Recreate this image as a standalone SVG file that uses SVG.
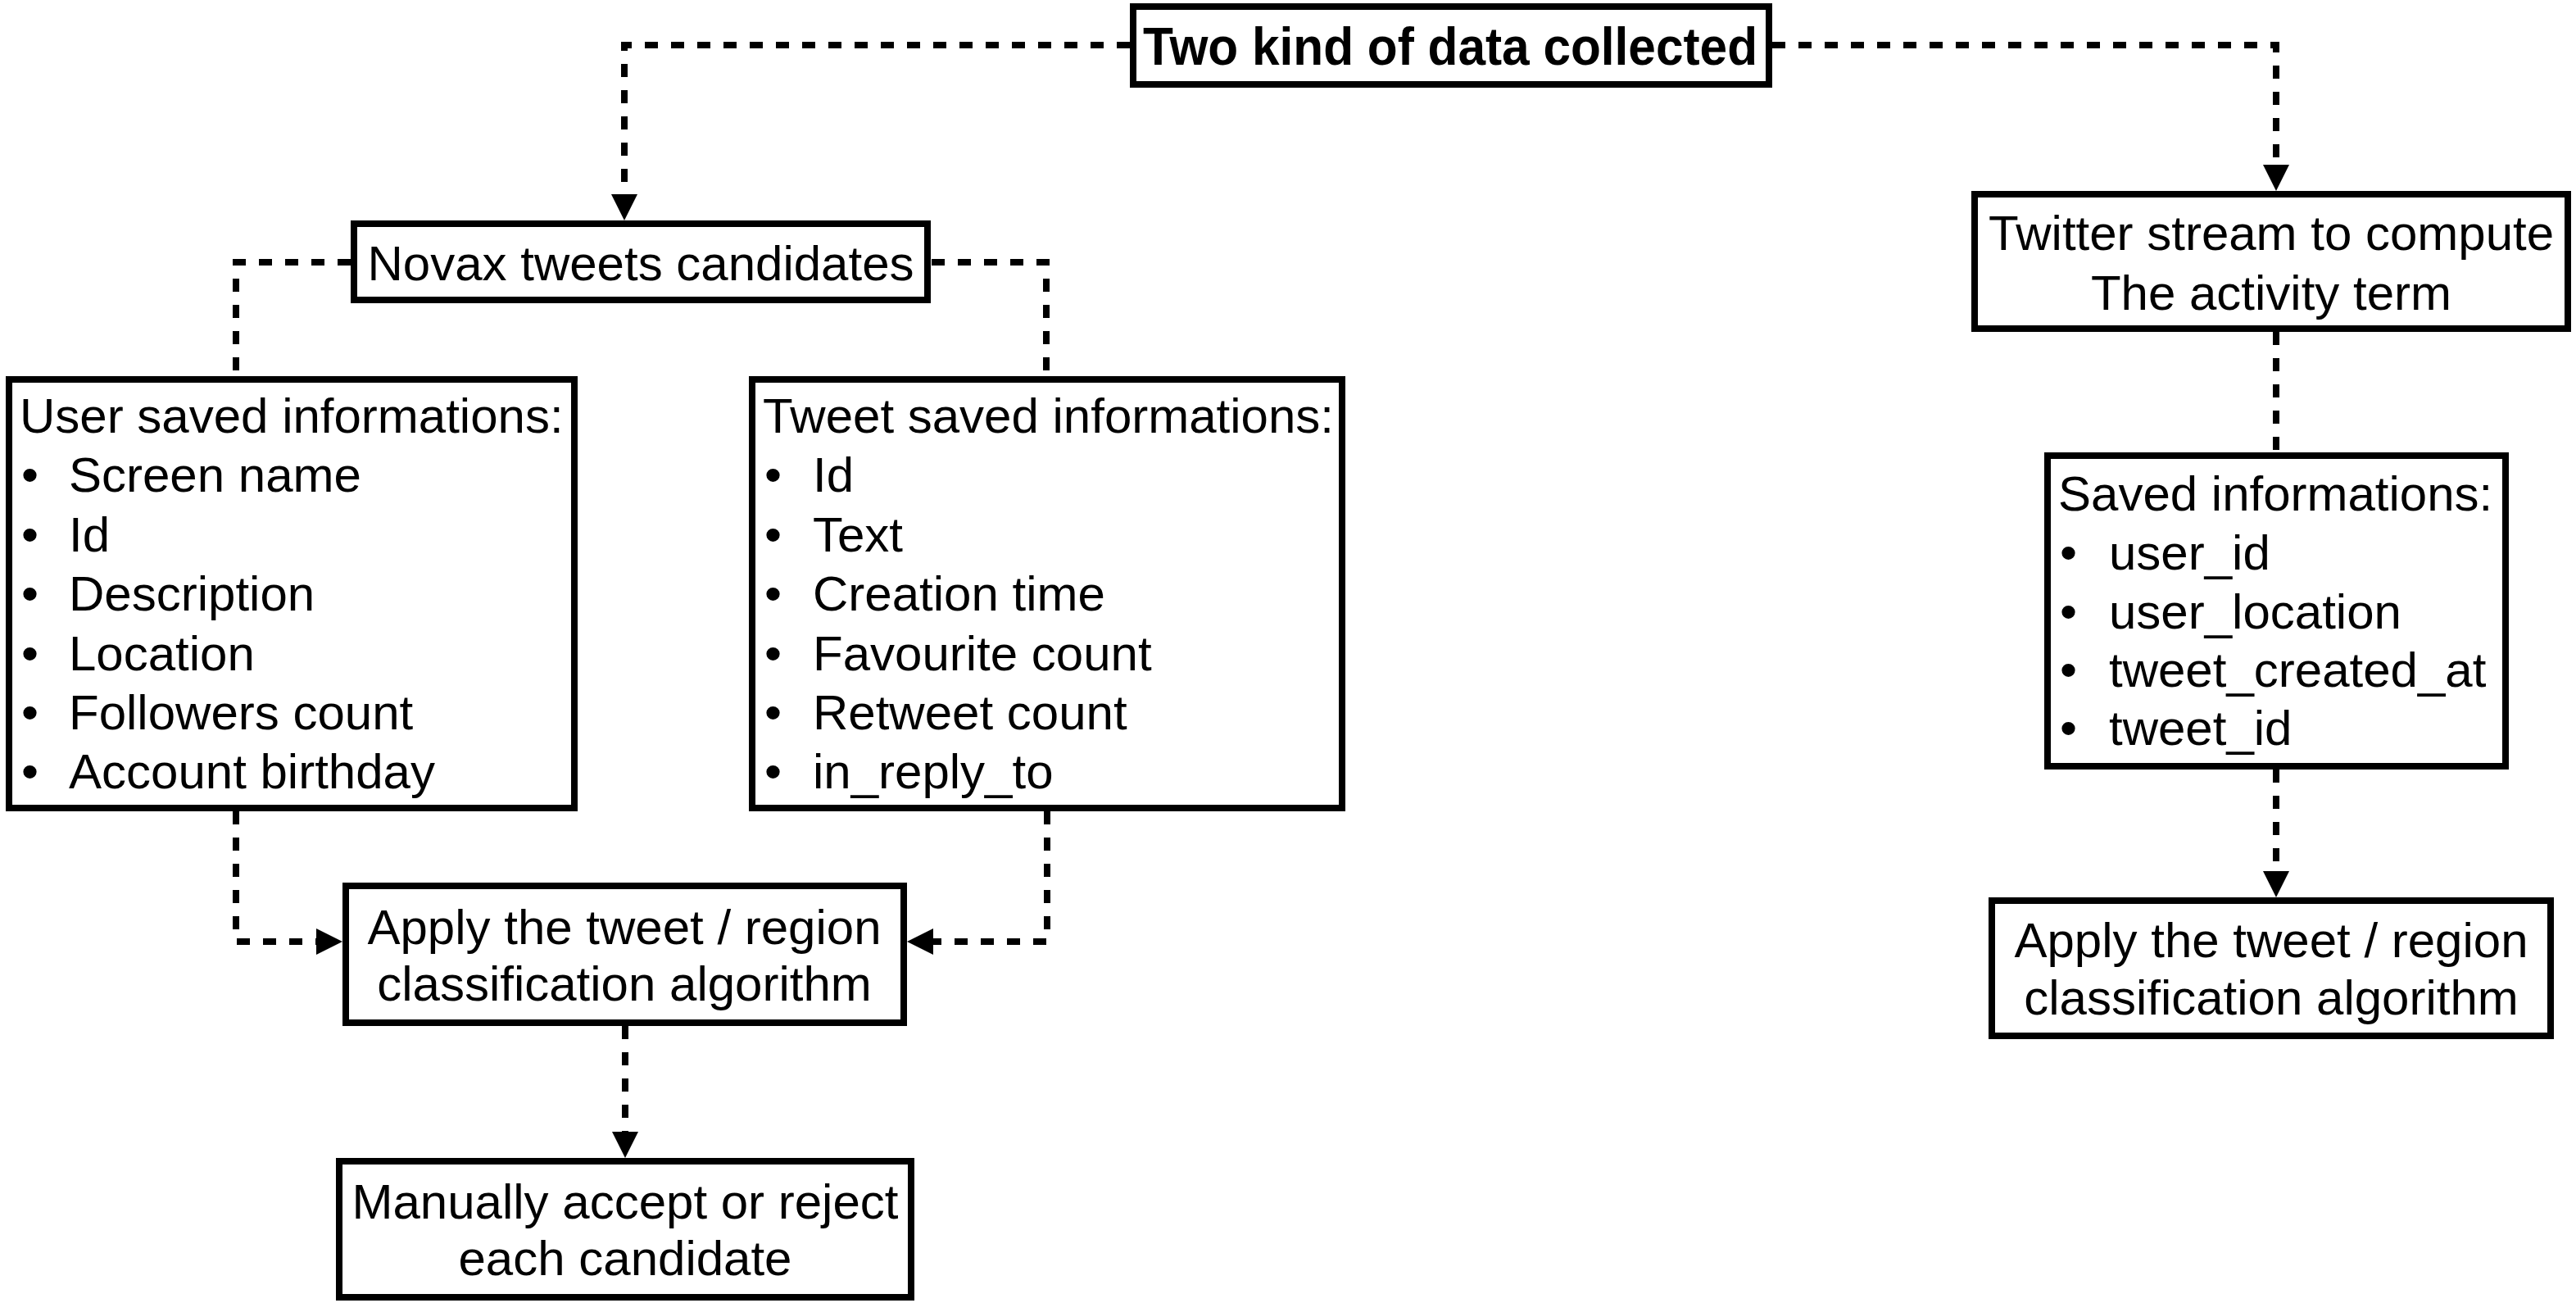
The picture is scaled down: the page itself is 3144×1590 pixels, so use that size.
<svg xmlns="http://www.w3.org/2000/svg" width="3144" height="1590" viewBox="0 0 3144 1590">
<style>
.box{fill:#fff;stroke:#000;stroke-width:8}
.t{font-family:"Liberation Sans",Arial,Helvetica,sans-serif;font-size:60px;fill:#000}
.c{text-anchor:middle}
.b{font-weight:bold;font-size:64px}
.con{fill:none;stroke:#000;stroke-width:8;stroke-dasharray:16 16}
</style>
<defs>
<marker id="arr" markerUnits="userSpaceOnUse" viewBox="0 0 32 32" markerWidth="32" markerHeight="32" refX="0" refY="16" orient="auto">
<path d="M0,0 L32,16 L0,32 z" fill="#000"/>
</marker>
</defs>
<rect width="3144" height="1590" fill="#fff"/>
<g id="connectors">
<path class="con" d="M1379,55 H762 V237" marker-end="url(#arr)"/>
<path class="con" d="M2163,55 H2778 V201" marker-end="url(#arr)"/>
<path class="con" d="M428,320 H288 V459"/>
<path class="con" d="M1137,320 H1277 V459"/>
<path class="con" d="M288,990 V1149 H386" marker-end="url(#arr)"/>
<path class="con" d="M1278,990 V1149 H1139" marker-end="url(#arr)"/>
<path class="con" d="M763,1252 V1381" marker-end="url(#arr)"/>
<path class="con" d="M2778,405 V552"/>
<path class="con" d="M2778,939 V1063" marker-end="url(#arr)"/>
</g>
<g id="title">
<rect class="box" x="1383" y="8" width="776" height="95"/>
<text class="t c b" x="1770" y="79" textLength="750" lengthAdjust="spacingAndGlyphs">Two kind of data collected</text>
</g>
<g id="novax">
<rect class="box" x="432" y="273" width="700" height="93"/>
<text class="t c" x="782" y="342">Novax tweets candidates</text>
</g>
<g id="user">
<rect class="box" x="11" y="463" width="690" height="523"/>
<text class="t" x="24" y="528">User saved informations:</text>
<text class="t" x="26" y="600">•</text><text class="t" x="84" y="600">Screen name</text>
<text class="t" x="26" y="673">•</text><text class="t" x="84" y="673">Id</text>
<text class="t" x="26" y="745">•</text><text class="t" x="84" y="745">Description</text>
<text class="t" x="26" y="818">•</text><text class="t" x="84" y="818">Location</text>
<text class="t" x="26" y="890">•</text><text class="t" x="84" y="890">Followers count</text>
<text class="t" x="26" y="962">•</text><text class="t" x="84" y="962">Account birthday</text>
</g>
<g id="tweet">
<rect class="box" x="918" y="463" width="720" height="523"/>
<text class="t" x="931" y="528">Tweet saved informations:</text>
<text class="t" x="933" y="600">•</text><text class="t" x="992" y="600">Id</text>
<text class="t" x="933" y="673">•</text><text class="t" x="992" y="673">Text</text>
<text class="t" x="933" y="745">•</text><text class="t" x="992" y="745">Creation time</text>
<text class="t" x="933" y="818">•</text><text class="t" x="992" y="818">Favourite count</text>
<text class="t" x="933" y="890">•</text><text class="t" x="992" y="890">Retweet count</text>
<text class="t" x="933" y="962">•</text><text class="t" x="992" y="962">in_reply_to</text>
</g>
<g id="apply-left">
<rect class="box" x="422" y="1081" width="681" height="167"/>
<text class="t c" x="762" y="1152">Apply the tweet / region</text>
<text class="t c" x="762" y="1221">classification algorithm</text>
</g>
<g id="manual">
<rect class="box" x="414" y="1417" width="698" height="166"/>
<text class="t c" x="763" y="1487">Manually accept or reject</text>
<text class="t c" x="763" y="1556">each candidate</text>
</g>
<g id="twitter">
<rect class="box" x="2410" y="237" width="724" height="164"/>
<text class="t c" x="2772" y="305">Twitter stream to compute</text>
<text class="t c" x="2772" y="378">The activity term</text>
</g>
<g id="saved">
<rect class="box" x="2499" y="556" width="559" height="379"/>
<text class="t" x="2512" y="623">Saved informations:</text>
<text class="t" x="2514" y="695">•</text><text class="t" x="2574" y="695">user_id</text>
<text class="t" x="2514" y="767">•</text><text class="t" x="2574" y="767">user_location</text>
<text class="t" x="2514" y="838">•</text><text class="t" x="2574" y="838">tweet_created_at</text>
<text class="t" x="2514" y="909">•</text><text class="t" x="2574" y="909">tweet_id</text>
</g>
<g id="apply-right">
<rect class="box" x="2431" y="1099" width="682" height="165"/>
<text class="t c" x="2772" y="1168">Apply the tweet / region</text>
<text class="t c" x="2772" y="1238">classification algorithm</text>
</g>
</svg>
